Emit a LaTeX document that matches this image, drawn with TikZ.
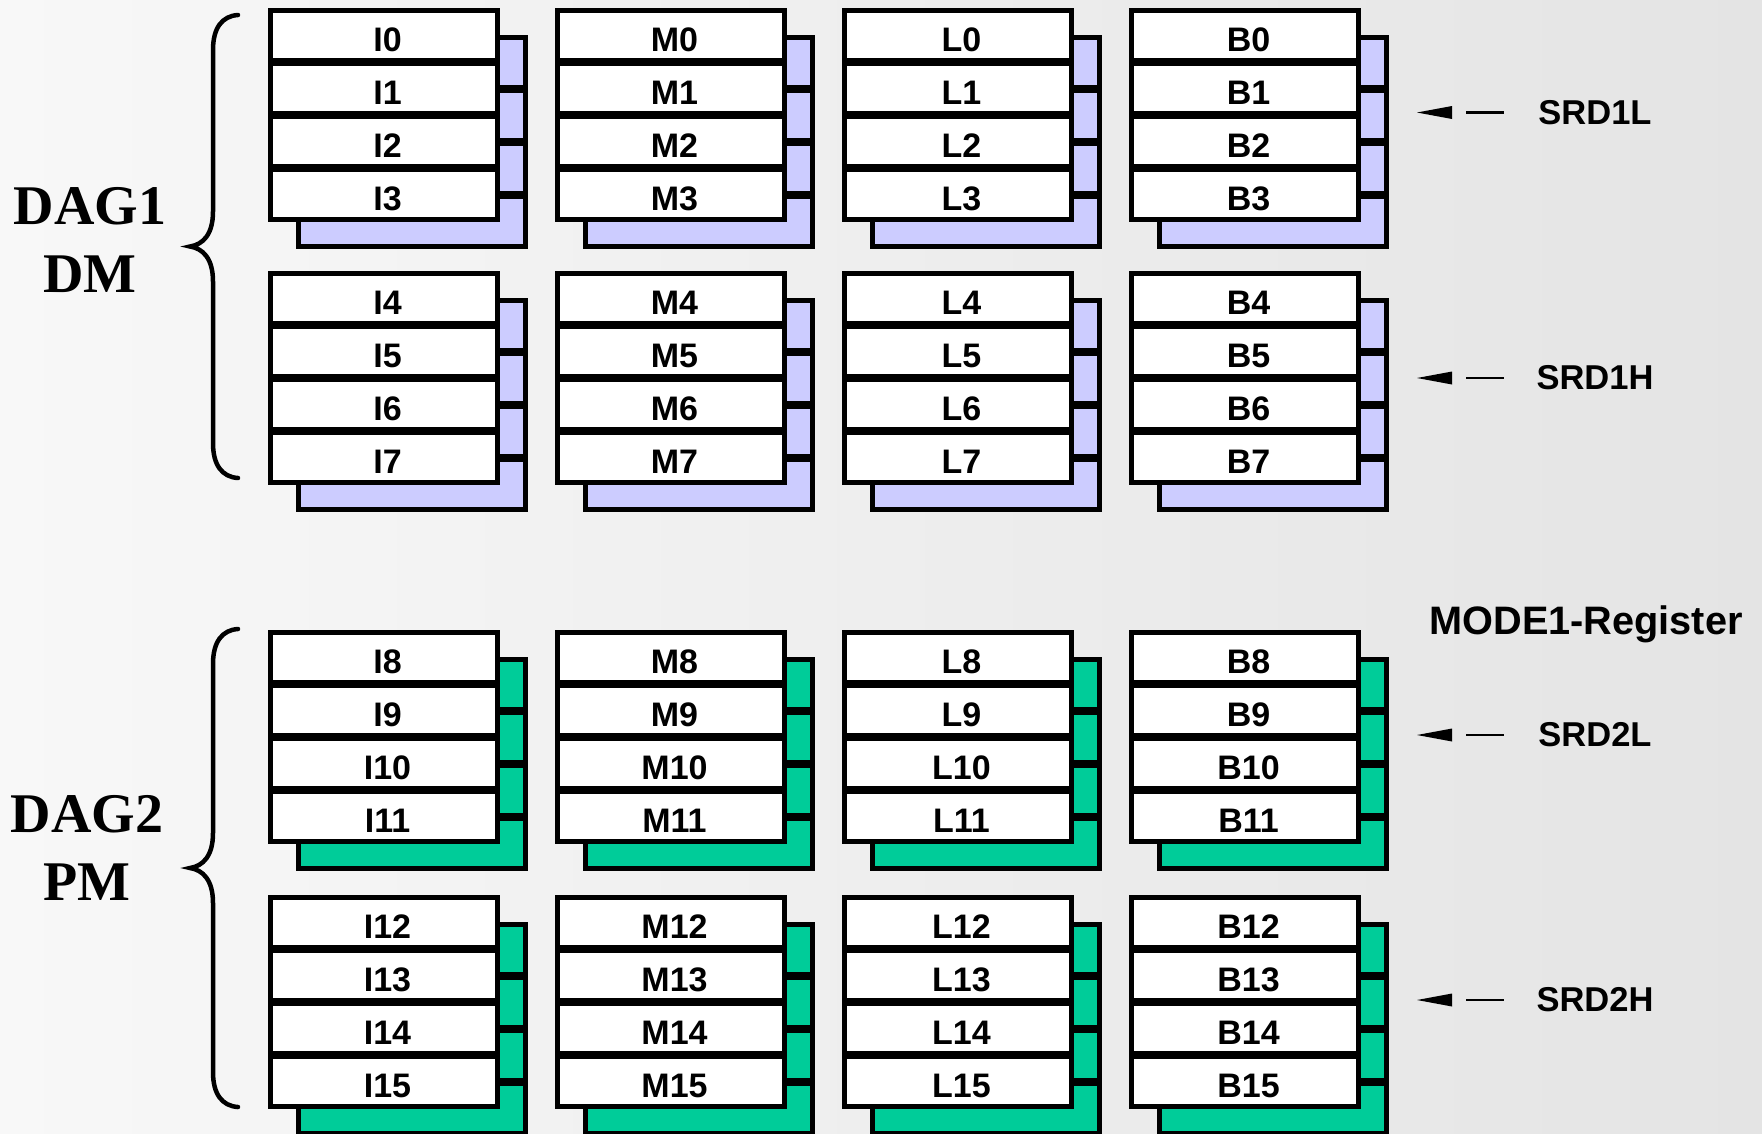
\documentclass[tikz,border=0pt]{standalone}
\usepackage{fontspec}
\setmainfont{Liberation Sans}
\newfontfamily\timesfont{Liberation Serif}
\definecolor{lav}{HTML}{CCCCFF}
\definecolor{grn}{HTML}{00CC99}
\definecolor{bgl}{HTML}{F8F8F8}
\definecolor{bgr}{HTML}{E4E4E4}
\begin{document}
\begin{tikzpicture}[x=1pt,y=-1pt,
  regbox/.style={draw=black, line width=5pt, fill=white, minimum width=227pt,
    minimum height=50pt, inner sep=0pt},
  reglabel/.style={inner sep=0pt, text height=30pt, text depth=0pt,
    font=\fontsize{34}{40}\selectfont\bfseries},
  shadbox/.style={draw=black, line width=5pt},
  dagtext/.style={align=center, inner sep=0pt, font=\timesfont\fontsize{56}{68}\selectfont\bfseries},
  srdtext/.style={inner sep=0pt, font=\fontsize{34.5}{40}\selectfont\bfseries},
  bracepath/.style={line width=4.5pt, line cap=round}]
\useasboundingbox (0,0) rectangle (1762,1133);
\shade[left color=bgl, right color=bgr] (0,0) rectangle (1762,1133);

% register stacks
\foreach \g/\gtop/\col in {0/10/lav, 1/273/lav, 2/632/grn, 3/897/grn} {
  \foreach \L/\xl in {I/270, M/557, L/844, B/1131} {
    \foreach \r in {0,...,3} {
      \pgfmathsetmacro{\yt}{\gtop+53.3*\r}
      \filldraw[shadbox, fill=\col] (\xl+28, \yt+27) rectangle ++(227,50);
    }
    \foreach \r in {0,...,3} {
      \pgfmathtruncatemacro{\n}{4*\g+\r}
      \pgfmathsetmacro{\yt}{\gtop+53.3*\r}
      \node[regbox] (\L\n) at (\xl+113.5, \yt+25) {};
      \node[reglabel] at ([xshift=4pt,yshift=-1pt]\L\n.center) {\L\n};
    }
  }
}

% braces
\foreach \t/\m/\b in {15/246.5/478, 629/868/1107} {
  \draw[bracepath] (238,\t) .. controls (222,\t+1) and (213,\t+13) .. (213,\t+35)
    -- (213,\m-35) .. controls (213,\m-12) and (203,\m-2) .. (190,\m)
    .. controls (203,\m+2) and (213,\m+12) .. (213,\m+35)
    -- (213,\b-35) .. controls (213,\b-13) and (222,\b-1) .. (238,\b);
}

\node[dagtext] (dag1) at (90,240) {DAG1\\DM};
\node[dagtext] (dag2) at (87,848) {DAG2\\PM};

% SRD labels with arrows
\foreach \nm/\txt/\y in {s1l/SRD1L/112.5, s1h/SRD1H/378, s2l/SRD2L/735, s2h/SRD2H/1000} {
  \node[srdtext] (\nm) at (1595,\y) {\txt};
  \fill (1417,\y) -- (1452,\y-6.5) -- (1452,\y+6.5) -- cycle;
  \draw[line width=2.5pt] (1466,\y) -- (1504,\y);
}

\node[inner sep=0pt, font=\fontsize{39.7}{44}\selectfont\bfseries] (mode) at (1586,624) {MODE1-Register};
\end{tikzpicture}
\end{document}
